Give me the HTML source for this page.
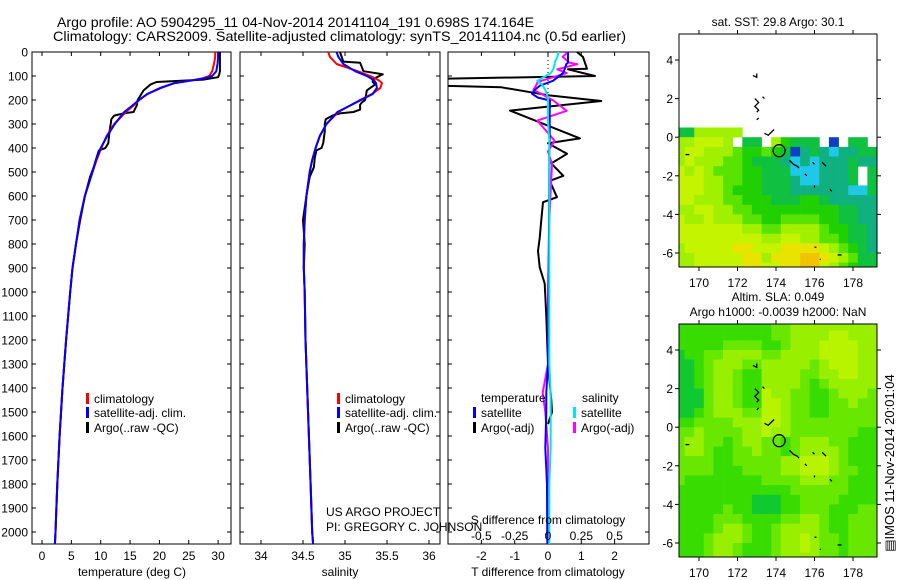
<!DOCTYPE html>
<html><head><meta charset="utf-8"><style>
html,body{margin:0;padding:0;background:#fff;}
svg{display:block;font-family:"Liberation Sans",sans-serif;}
</style></head><body>
<svg id="fig" width="900" height="580" viewBox="0 0 900 580" xmlns="http://www.w3.org/2000/svg">
<defs>
<clipPath id="c1"><rect x="32" y="52" width="199" height="492"/></clipPath>
<clipPath id="c2"><rect x="240" y="52" width="200" height="492"/></clipPath>
<clipPath id="c3"><rect x="448" y="52" width="201" height="492"/></clipPath>
<clipPath id="m1"><rect x="679" y="34" width="198" height="233"/></clipPath>
<clipPath id="m2"><rect x="679" y="324" width="198" height="233"/></clipPath>
</defs>
<text x="57" y="27" font-size="14" textLength="477" lengthAdjust="spacingAndGlyphs">Argo profile: AO 5904295_11 04-Nov-2014 20141104_191 0.698S 174.164E</text>
<text x="53" y="41" font-size="14" textLength="573" lengthAdjust="spacingAndGlyphs">Climatology: CARS2009. Satellite-adjusted climatology: synTS_20141104.nc (0.5d earlier)</text>
<g id="g"></g>
</svg>
<script>
// ---- data ----
const depthTicks=[0,100,200,300,400,500,600,700,800,900,1000,1100,1200,1300,1400,1500,1600,1700,1800,1900,2000];
const tempTicks=[0,5,10,15,20,25,30];
const salTicks=[34,34.5,35,35.5,36];
const dTTicks=[-2,-1,0,1,2];
const dSTicks=[-0.5,-0.25,0,0.25,0.5];
const dSTickLabels=["-0.5","-0.25","0","0.25","0.5"];

const climDepth=[0,20,50,80,100,110,120,130,150,175,200,225,250,300,350,400,450,500,600,700,800,900,1000,1200,1400,1600,1800,2000,2050];
const climTemp=[29.5,29.5,29.3,29.0,28.5,27.3,25.0,22.5,20.3,18.0,16.6,15.5,14.3,12.3,11.0,10.1,9.3,8.6,7.3,6.4,5.8,5.2,4.8,4.1,3.5,3.0,2.6,2.3,2.2];
const satTemp=[30.0,30.0,29.9,29.7,29.0,27.6,25.2,22.5,20.1,17.9,16.5,15.3,14.0,12.4,11.1,10.0,9.2,8.6,7.3,6.4,5.8,5.2,4.8,4.1,3.5,3.0,2.6,2.3,2.2];
const climSal=[34.80,34.82,34.90,35.15,35.30,35.36,35.41,35.44,35.42,35.32,35.18,35.05,34.92,34.78,34.70,34.65,34.61,34.58,34.54,34.52,34.51,34.51,34.52,34.53,34.55,34.57,34.59,34.61,34.62];
const satSal=[34.90,34.92,34.98,35.12,35.26,35.31,35.35,35.37,35.38,35.33,35.19,35.05,34.91,34.78,34.70,34.65,34.61,34.58,34.54,34.52,34.51,34.51,34.52,34.53,34.55,34.57,34.59,34.61,34.62];

const argoDepth=[0,40,45,80,93,105,115,125,135,160,200,210,220,240,250,255,265,280,300,330,380,400,410,440,480,520,600,700,800,900,1000,1200,1400,1600,1800,2000,2050];
const argoTemp=[30.3,30.3,30.3,30.3,30.2,30.0,27.5,19.5,18.5,17.3,16.3,16.2,16.2,15.8,15.6,14.0,12.3,11.8,11.7,11.5,11.3,10.8,9.7,9.3,8.8,8.2,7.3,6.5,5.8,5.2,4.8,4.1,3.5,3.0,2.6,2.3,2.2];
const argoSal=[34.94,34.98,35.18,35.22,35.45,35.38,35.33,35.33,35.36,35.26,35.24,35.20,35.18,35.18,35.10,34.95,34.85,34.77,34.76,34.76,34.74,34.72,34.66,34.64,34.63,34.58,34.54,34.50,34.52,34.51,34.52,34.53,34.55,34.57,34.59,34.61,34.62];

const dDepth=[0,21,70,72,100,112,140,147,180,204,244,360,380,424,464,516,537,605,626,700,775,829,897,965,1100,1300,1450,1500,1550];
const dTArgo=[0.87,1.05,1.17,0.6,1.41,-3.4,-3.4,-1.4,0.0,1.6,-1.14,0.96,0.0,0.57,0.1,0.46,0.05,0.27,-0.15,-0.2,-0.25,-0.3,-0.25,-0.1,-0.05,0.0,0.1,0.12,0.0];
const dSDepth=[0,20,44,51,72,88,120,128,140,158,174,190,202,245,286,370,414,467,700,1000,1300,1420,1500,1650,1800,2050];
const dTSat=[0.6,0.6,0.6,0.55,0.5,0.45,0.15,0.0,-0.24,-0.4,-0.48,-0.3,0.06,0.05,0.05,0.05,0.04,0.04,0.03,0.02,0.0,-0.05,-0.05,-0.08,-0.03,-0.02];
const dSArgo=[0.15,0.11,0.16,0.22,0.07,0.14,-0.05,-0.08,-0.09,-0.11,-0.05,0.0,0.04,0.14,-0.08,0.05,0.0,0.03,0.01,0.0,0.0,-0.04,-0.02,0.0,0.0,0.0];
const dSSat=[0.08,0.07,0.05,0.05,0.04,0.02,-0.08,-0.06,-0.04,-0.02,-0.01,0.0,0.0,0.0,0.0,0.01,0.01,0.01,0.01,0.01,0.01,0.02,0.02,0.02,0.01,0.01];

const lonTicks=[170,172,174,176,178];
const latTicks=[4,2,0,-2,-4,-6];
const sstPalette=['#1040c0','#20c8e8','#10b080','#10c040','#20d000','#58e400','#a0f000','#c4f400','#e8e400','#f0c400'];
const slaPalette=['#10c830','#10c830','#10c830','#10c830','#38dc00','#68e800','#98f000','#b8f400'];
const sstRows=[
"3366666..............",
"667776.33.64333.0.33.",
"677666544543023212233",
"676665543332121222322",
"7676555443331112223.3",
"7776655443332112223.3",
"777665444333222222113",
"776665544433344322222",
"667766554444444443322",
"766766655445555443322",
"777777766556666544332",
"777777777667766554332",
"677777887778888765432",
"667777788688899876533",
"667777788778899765433"];
const slaRows=[
"444444444455666666666","444444444455666677666","444445555445666777766","344556666556666777766",
"334566655666665677766","334566544666655667766","334566544666654566666","333566544766554456665",
"333566544776554455655","334566655776554455555","445555666776555555555","556555566766555555544",
"566554566554566655444","566544556554566665444","555544555556677765444","555544455556677765544",
"544444444555566655444","444444444444555555444","444444443334455554444","444445443334455544455",
"444455544445566544555","444456654456666544555","444566654456676554555","444566544456676554555",
"444566544456666554555"];
const argoLon=174.164, argoLat=-0.698;

// ---- scales ----
const yD=d=>52+d*0.24;
const xT=t=>42+t*5.87;
const xS=s=>261+(s-34)*84;
const xDT=v=>548+v*33.3;
const xDS=v=>548+v*133.3;
const lonX=l=>699+(l-170)*19.25;
const latY1=a=>60+(4-a)*19.3;
const latY2=a=>350+(4-a)*19.3;

const NS='http://www.w3.org/2000/svg';
const G=document.getElementById('g');
function mk(tag,attrs,parent){const e=document.createElementNS(NS,tag);for(const k in attrs)e.setAttribute(k,attrs[k]);(parent||G).appendChild(e);return e;}
function txt(s,x,y,anchor,size,parent){const e=mk('text',{x:x,y:y,'text-anchor':anchor||'middle','font-size':size||12},parent);e.textContent=s;return e;}
function line(xs,ds,xf,color,clip,name,w){
  const pts=xs.map((v,i)=>xf(v).toFixed(1)+','+yD(ds[i]).toFixed(1)).join(' ');
  const p=mk('polyline',{points:pts,fill:'none',stroke:color,'stroke-width':w||2,'stroke-linejoin':'round','clip-path':'url(#'+clip+')'});
  
  
  return p;
}
function box(x,y,w,h,name){const r=mk('rect',{x:x,y:y,width:w,height:h,fill:'none',stroke:'#000','stroke-width':1});
  
  }

depthTicks.forEach(d=>{const t=txt(String(d),28,yD(d)+4.5,'end');
  
  });
[[32,231],[240,440],[448,649]].forEach(([l,r])=>{depthTicks.forEach(d=>{
  mk('line',{x1:l,x2:l+4,y1:yD(d),y2:yD(d),stroke:'#000'});
  mk('line',{x1:r-4,x2:r,y1:yD(d),y2:yD(d),stroke:'#000'});});});

// Panel 1
box(32,52,199,492,'temperature-panel');
tempTicks.forEach(t=>{mk('line',{x1:xT(t),x2:xT(t),y1:52,y2:56,stroke:'#000'});mk('line',{x1:xT(t),x2:xT(t),y1:540,y2:544,stroke:'#000'});
  const e=txt(String(t),xT(t),560);
  
  });
line(argoTemp,argoDepth,xT,'#000','c1','argo-temperature-line');
line(climTemp,climDepth,xT,'#ff0000','c1','clim-temperature-line');
line(satTemp,climDepth,xT,'#0000ff','c1','sat-temperature-line');
let e=txt('temperature (deg C)',132,576);



// Panel 2
box(240,52,200,492,'salinity-panel');
salTicks.forEach(s=>{mk('line',{x1:xS(s),x2:xS(s),y1:52,y2:56,stroke:'#000'});mk('line',{x1:xS(s),x2:xS(s),y1:540,y2:544,stroke:'#000'});
  const e=txt(String(s),xS(s),560);
  
  });
line(argoSal,argoDepth,xS,'#000','c2','argo-salinity-line');
line(climSal,climDepth,xS,'#ff0000','c2','clim-salinity-line');
line(satSal,climDepth,xS,'#0000ff','c2','sat-salinity-line');
e=txt('salinity',340,576);



function legend(x,y,color,label,name){mk('rect',{x:x,y:y-9,width:3,height:11,fill:color});
  const t=txt(label,x+8,y+1,'start');
  
  }
legend(86,402,'#ff0000','climatology','legend-climatology');
legend(86,416,'#0000ff','satellite-adj. clim.','legend-satellite-adj');
legend(86,431,'#000','Argo(..raw -QC)','legend-argo-raw');
legend(337,402,'#ff0000','climatology','legend-climatology-2');
legend(337,416,'#0000ff','satellite-adj. clim.','legend-satellite-adj-2');
legend(337,431,'#000','Argo(..raw -QC)','legend-argo-raw-2');

// Panel 3
box(448,52,201,492,'difference-panel');
dTTicks.forEach(v=>{mk('line',{x1:xDT(v),x2:xDT(v),y1:52,y2:56,stroke:'#000'});mk('line',{x1:xDT(v),x2:xDT(v),y1:540,y2:544,stroke:'#000'});
  const e=txt(String(v),xDT(v),560);
  
  });
mk('line',{x1:548,x2:548,y1:52,y2:yD(220),stroke:'#000','stroke-dasharray':'1,3'});
line(dTArgo,dDepth,xDT,'#000','c3','argo-t-diff-line');
line(dSArgo,dSDepth,xDS,'#ff00ff','c3','argo-s-diff-line');
line(dTSat,dSDepth,xDT,'#0000ff','c3','sat-t-diff-line');
line(dSSat,dSDepth,xDS,'#00e8e8','c3','sat-s-diff-line');
dSTicks.forEach((v,i)=>{const e=txt(dSTickLabels[i],xDS(v),540);
  
  });
e=txt('S difference from climatology',548,524);


e=txt('T difference from climatology',548,576);


e=txt('temperature',481,402,'start');


e=txt('salinity',582,402,'start');


legend(473,416,'#0000ff','satellite','legend-t-satellite');
legend(473,431,'#000','Argo(-adj)','legend-t-argo');
legend(573,416,'#00e8e8','satellite','legend-s-satellite');
legend(573,431,'#ff00ff','Argo(-adj)','legend-s-argo');

e=txt('US ARGO PROJECT',326,516,'start');


e=txt('PI: GREGORY C. JOHNSON',326,531,'start');



// Maps
function drawMap(rows,pal,topLat,latY,clip,mapTop,name){
  const g=mk('g',{'clip-path':'url(#'+clip+')'});
  
  
  rows.forEach((row,r)=>{for(let c=0;c<row.length;c++){const ch=row[c];if(ch==='.'||ch===' ')continue;
    const l0=168.75+c*0.5, a0=topLat-r*0.5;
    const x=lonX(l0), y=latY(a0);
    const cell=mk('rect',{x:x.toFixed(1),y:y.toFixed(1),width:(lonX(l0+0.5)-x+0.4).toFixed(1),height:(latY(a0-0.5)-y+0.4).toFixed(1),fill:pal[+ch]},g);
    
    }});
  const coast=[[[172.8,3.2],[173.0,3.1],[173.0,3.3]],[[172.9,2.0],[173.1,1.8],[172.9,1.6],[173.1,1.4],[173.0,1.3]],[[173.3,2.1],[173.4,2.0]],[[173.1,1.0],[173.0,0.9]],[[173.4,0.2],[173.6,0.1],[173.9,0.4]],[[174.7,-1.2],[174.9,-1.4],[175.1,-1.5],[175.2,-1.6]],[[175.9,-1.3],[176.0,-1.4]],[[176.4,-1.3],[176.6,-1.5]],[[175.5,-1.9],[175.6,-2.0]],[[169.3,-0.9],[169.5,-0.9]],[[176.0,-2.5],[176.0,-2.6]],[[176.8,-2.7],[176.9,-2.8]],[[176.0,-5.7],[176.1,-5.7]],[[177.2,-6.1],[177.4,-6.1]],[[176.3,-6.3],[176.3,-6.35]]];
  coast.forEach(seg=>{const p=mk('polyline',{points:seg.map(q=>lonX(q[0])+','+latY(q[1])).join(' '),fill:'none',stroke:'#000','stroke-width':1.3},g);
    
    });
  const ci=mk('circle',{cx:lonX(argoLon),cy:latY(argoLat),r:6,fill:'none',stroke:'#000','stroke-width':1.3},g);
  
  
  box(679,mapTop,198,233,name+'-frame');
  lonTicks.forEach(l=>{mk('line',{x1:lonX(l),x2:lonX(l),y1:mapTop-4,y2:mapTop,stroke:'#000'});mk('line',{x1:lonX(l),x2:lonX(l),y1:mapTop+233,y2:mapTop+237,stroke:'#000'});
    const t=txt(String(l),lonX(l),mapTop+253);
    
    });
  latTicks.forEach(a=>{mk('line',{x1:675,x2:679,y1:latY(a),y2:latY(a),stroke:'#000'});mk('line',{x1:877,x2:881,y1:latY(a),y2:latY(a),stroke:'#000'});
    const t=txt(String(a),673,latY(a)+4.5,'end');
    
    });
}
drawMap(sstRows,sstPalette,0.5,latY1,'m1',34,'sst-map');
drawMap(slaRows,slaPalette,5.5,latY2,'m2',324,'sla-map');
e=txt('sat. SST: 29.8 Argo: 30.1',778,26);


e=txt('Altim. SLA: 0.049',778,301);


e=txt('Argo h1000: -0.0039 h2000: NaN',778,316);


e=mk('text',{x:0,y:0,'font-size':13,'text-anchor':'middle',transform:'translate(894,463) rotate(-90)'});
e.textContent='\u25A4IMOS 11-Nov-2014 20:01:04';


</script>
</body></html>
